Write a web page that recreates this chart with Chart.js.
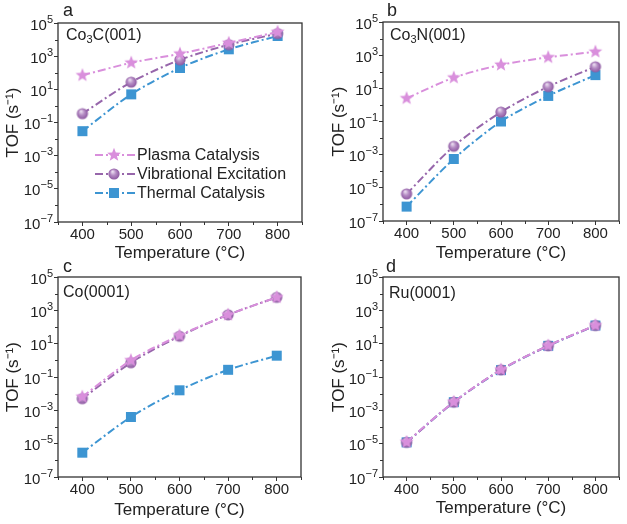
<!DOCTYPE html>
<html>
<head>
<meta charset="utf-8">
<title>TOF vs Temperature</title>
<script src="https://cdn.jsdelivr.net/npm/chart.js"></script>
<style>
  body { margin: 0; width: 627px; height: 524px; background: #fff; position: relative; overflow: hidden;
         font-family: "Liberation Sans", Arial, sans-serif; color: #222; }
  canvas.panel { position: absolute; }
  .lbl { position: absolute; line-height: 1; white-space: nowrap; }
  .letter { font-size: 18px; }
  .surf { font-size: 16px; }
  .surf sub { font-size: 11px; vertical-align: -3px; line-height: 0; }
  .leg { position: absolute; left: 94px; font-size: 16px; line-height: 1; }
  .leg div { position: absolute; left: 0; white-space: nowrap; }
  .leg canvas { position: absolute; left: 0; }
  .leg span { position: absolute; left: 43px; top: 0; }
</style>
</head>
<body>

<canvas class="panel" id="pa" width="310" height="262" style="left:0;top:0"></canvas>
<canvas class="panel" id="pb" width="317" height="262" style="left:310px;top:0"></canvas>
<canvas class="panel" id="pc" width="310" height="262" style="left:0;top:262px"></canvas>
<canvas class="panel" id="pd" width="317" height="262" style="left:310px;top:262px"></canvas>

<div class="lbl letter" style="left:63px;top:1px">a</div>
<div class="lbl letter" style="left:387px;top:1px">b</div>
<div class="lbl letter" style="left:63px;top:257px">c</div>
<div class="lbl letter" style="left:386px;top:257px">d</div>

<div class="lbl surf" style="left:66px;top:27px">Co<sub>3</sub>C(001)</div>
<div class="lbl surf" style="left:390px;top:27px">Co<sub>3</sub>N(001)</div>
<div class="lbl surf" style="left:63px;top:284px">Co(0001)</div>
<div class="lbl surf" style="left:389px;top:285px">Ru(0001)</div>

<div class="leg" id="legend"></div>

<script>
// temperatures (°C)
const temps = [400, 500, 600, 700, 800];
const seriesNames = ['Plasma Catalysis', 'Vibrational Excitation', 'Thermal Catalysis'];

// TOF values (s^-1)
const co3cPlasma  = [70, 400, 1400, 6300, 29000];
const co3cVib     = [0.34, 27, 600, 4900, 23000];
const co3cThermal = [0.03, 5, 195, 2600, 16500];

const co3nPlasma  = [2.5, 44, 260, 740, 1600];
const co3nVib     = [4.3e-6, 0.0032, 0.37, 12.6, 200];
const co3nThermal = [7.4e-7, 5.5e-4, 0.1, 3.5, 63];

const coPlasma  = [0.0065, 1.0, 31, 540, 6000];
const coVib     = [0.005, 0.72, 28, 540, 6000];
const coThermal = [2.9e-6, 4e-4, 0.016, 0.27, 1.9];

const ruPlasma  = [1.25e-5, 0.0032, 0.27, 7.6, 126];
const ruVib     = [1.2e-5, 0.0031, 0.27, 7.5, 124];
const ruThermal = [1.2e-5, 0.0031, 0.26, 7.4, 122];

// axis ticks
const yExponents = [-7, -6, -5, -4, -3, -2, -1, 0, 1, 2, 3, 4, 5];
const xTickValues = [350, 400, 450, 500, 550, 600, 650, 700, 750, 800, 850];

const colors = ['#d98fdc', '#9766ab', '#3d95d2'];
const markers = ['star', 'sphere', 'square'];
const dash = [8, 3, 2, 3];
const axisColor = '#333';
const textColor = '#222';

function drawMarker(g, kind, x, y) {
  if (kind === 'star') {
    g.beginPath();
    for (let i = 0; i < 10; i++) {
      const r = i % 2 === 0 ? 7.2 : 3.1;
      const a = -Math.PI / 2 + i * Math.PI / 5;
      g.lineTo(x + r * Math.cos(a), y + r * Math.sin(a));
    }
    g.closePath();
    g.fillStyle = colors[0];
    g.fill();
  } else if (kind === 'sphere') {
    const grad = g.createRadialGradient(x - 1.5, y - 2.5, 0.5, x, y, 5.8);
    grad.addColorStop(0, '#eadcf0');
    grad.addColorStop(0.45, '#b58cc4');
    grad.addColorStop(1, '#8a559f');
    g.beginPath();
    g.arc(x, y, 5.6, 0, Math.PI * 2);
    g.fillStyle = grad;
    g.fill();
  } else {
    g.fillStyle = colors[2];
    g.fillRect(x - 5, y - 5, 10, 10);
  }
}

function markerImage(kind) {
  const c = document.createElement('canvas');
  c.width = 16; c.height = 16;
  drawMarker(c.getContext('2d'), kind, 8, 8);
  return c;
}
const markerImgs = markers.map(markerImage);

// frame, short minor ticks and 10^n labels with a raised exponent
const framePlugin = {
  id: 'frame',
  afterDraw(chart) {
    const {ctx, chartArea: a, scales} = chart;
    ctx.save();
    ctx.strokeStyle = axisColor;
    ctx.lineWidth = 1.3;
    ctx.strokeRect(a.left, a.top, a.right - a.left, a.bottom - a.top);
    ctx.lineWidth = 1;
    ctx.beginPath();
    scales.x.ticks.forEach(t => {
      if (t.value % 100 !== 0) {
        const px = Math.round(scales.x.getPixelForValue(t.value)) + 0.5;
        ctx.moveTo(px, a.bottom); ctx.lineTo(px, a.bottom + 3);
      }
    });
    scales.y.ticks.forEach(t => {
      const e = Math.round(Math.log10(t.value));
      if (e % 2 === 0) {
        const py = Math.round(scales.y.getPixelForValue(t.value)) + 0.5;
        ctx.moveTo(a.left, py); ctx.lineTo(a.left - 3, py);
      }
    });
    ctx.stroke();

    ctx.fillStyle = textColor;
    ctx.textBaseline = 'middle';
    ctx.textAlign = 'left';
    scales.y.ticks.forEach(t => {
      const e = Math.round(Math.log10(t.value));
      if (Math.abs(e % 2) !== 1) return;
      const py = scales.y.getPixelForValue(t.value);
      const expTxt = e < 0 ? '\u2212' + (-e) : String(e);
      ctx.font = '11px "Liberation Sans"';
      const ew = ctx.measureText(expTxt).width;
      ctx.font = '15px "Liberation Sans"';
      const bw = ctx.measureText('10').width;
      const right = a.left - 5;
      ctx.fillText('10', right - ew - bw, py + 2.5);
      ctx.font = '11px "Liberation Sans"';
      ctx.fillText(expTxt, right - ew, py - 3.5);
    });
    ctx.restore();
  }
};

function makePanel(id, data, box) {
  new Chart(document.getElementById(id), {
    type: 'line',
    data: {
      datasets: data.map((vals, i) => ({
        label: seriesNames[i],
        data: temps.map((t, k) => ({x: t, y: vals[k]})),
        borderColor: colors[i],
        borderWidth: 2,
        borderDash: dash,
        tension: 0.3,
        pointStyle: markerImgs[i],
        pointRadius: 6
      }))
    },
    options: {
      responsive: false,
      animation: false,
      layout: {padding: {top: box.top, right: box.right, left: 0, bottom: 0}},
      plugins: {legend: {display: false}, tooltip: {enabled: false}},
      scales: {
        x: {
          type: 'linear', min: 350, max: 850,
          afterBuildTicks: s => { s.ticks = xTickValues.map(v => ({value: v})); },
          afterFit: s => { s.height = box.xh; },
          ticks: {
            autoSkip: false, maxRotation: 0, padding: 0, color: textColor,
            font: {family: 'Liberation Sans', size: 15},
            callback: v => (v % 100 === 0 && v >= 400 && v <= 800) ? String(v) : ''
          },
          grid: {
            display: true, drawOnChartArea: false, drawTicks: true, tickLength: 4,
            tickColor: c => (c.tick && c.tick.value % 100 === 0) ? axisColor : 'rgba(0,0,0,0)'
          },
          border: {display: false},
          title: {
            display: true, text: 'Temperature (\u00B0C)', color: textColor,
            font: {family: 'Liberation Sans', size: 17, lineHeight: 1},
            padding: {top: 0, bottom: box.xtp}
          }
        },
        y: {
          type: 'logarithmic', min: 1e-7, max: 1e5,
          afterBuildTicks: s => { s.ticks = yExponents.map(e => ({value: Math.pow(10, e)})); },
          afterFit: s => { s.width = box.yw; },
          ticks: {autoSkip: false, padding: 1, callback: () => ''},
          grid: {
            display: true, drawOnChartArea: false, drawTicks: true, tickLength: 4,
            tickColor: c => (c.tick && Math.abs(Math.round(Math.log10(c.tick.value)) % 2) === 1) ? axisColor : 'rgba(0,0,0,0)'
          },
          border: {display: false},
          title: {
            display: true, text: 'TOF (s\u207B\u00B9)', color: textColor,
            font: {family: 'Liberation Sans', size: 17, lineHeight: 1},
            padding: {top: box.ytp, bottom: 0}
          }
        }
      }
    },
    plugins: [framePlugin]
  });
}

makePanel('pa', [co3cPlasma, co3cVib, co3cThermal], {top: 23, right: 8, xh: 40, yw: 58, xtp: 0, ytp: 4.5});
makePanel('pb', [co3nPlasma, co3nVib, co3nThermal], {top: 22, right: 1, xh: 41, yw: 73, xtp: 0, ytp: 20.5});
makePanel('pc', [coPlasma, coVib, coThermal], {top: 15, right: 9, xh: 47, yw: 58, xtp: 5.5, ytp: 4.5});
makePanel('pd', [ruPlasma, ruVib, ruThermal], {top: 15, right: 1, xh: 47, yw: 73, xtp: 7.5, ytp: 20.5});

// legend for panel a
const legend = document.getElementById('legend');
const rowY = [147, 166, 185];
seriesNames.forEach((name, i) => {
  const row = document.createElement('div');
  row.style.top = rowY[i] + 'px';
  const icon = document.createElement('canvas');
  icon.width = 42; icon.height = 16;
  icon.style.top = '0px';
  const g = icon.getContext('2d');
  g.strokeStyle = colors[i];
  g.lineWidth = 2;
  g.setLineDash(dash);
  g.beginPath(); g.moveTo(1, 8); g.lineTo(42, 8); g.stroke();
  drawMarker(g, markers[i], 20, 8);
  const txt = document.createElement('span');
  txt.textContent = name;
  row.appendChild(icon);
  row.appendChild(txt);
  legend.appendChild(row);
});
</script>
</body>
</html>
